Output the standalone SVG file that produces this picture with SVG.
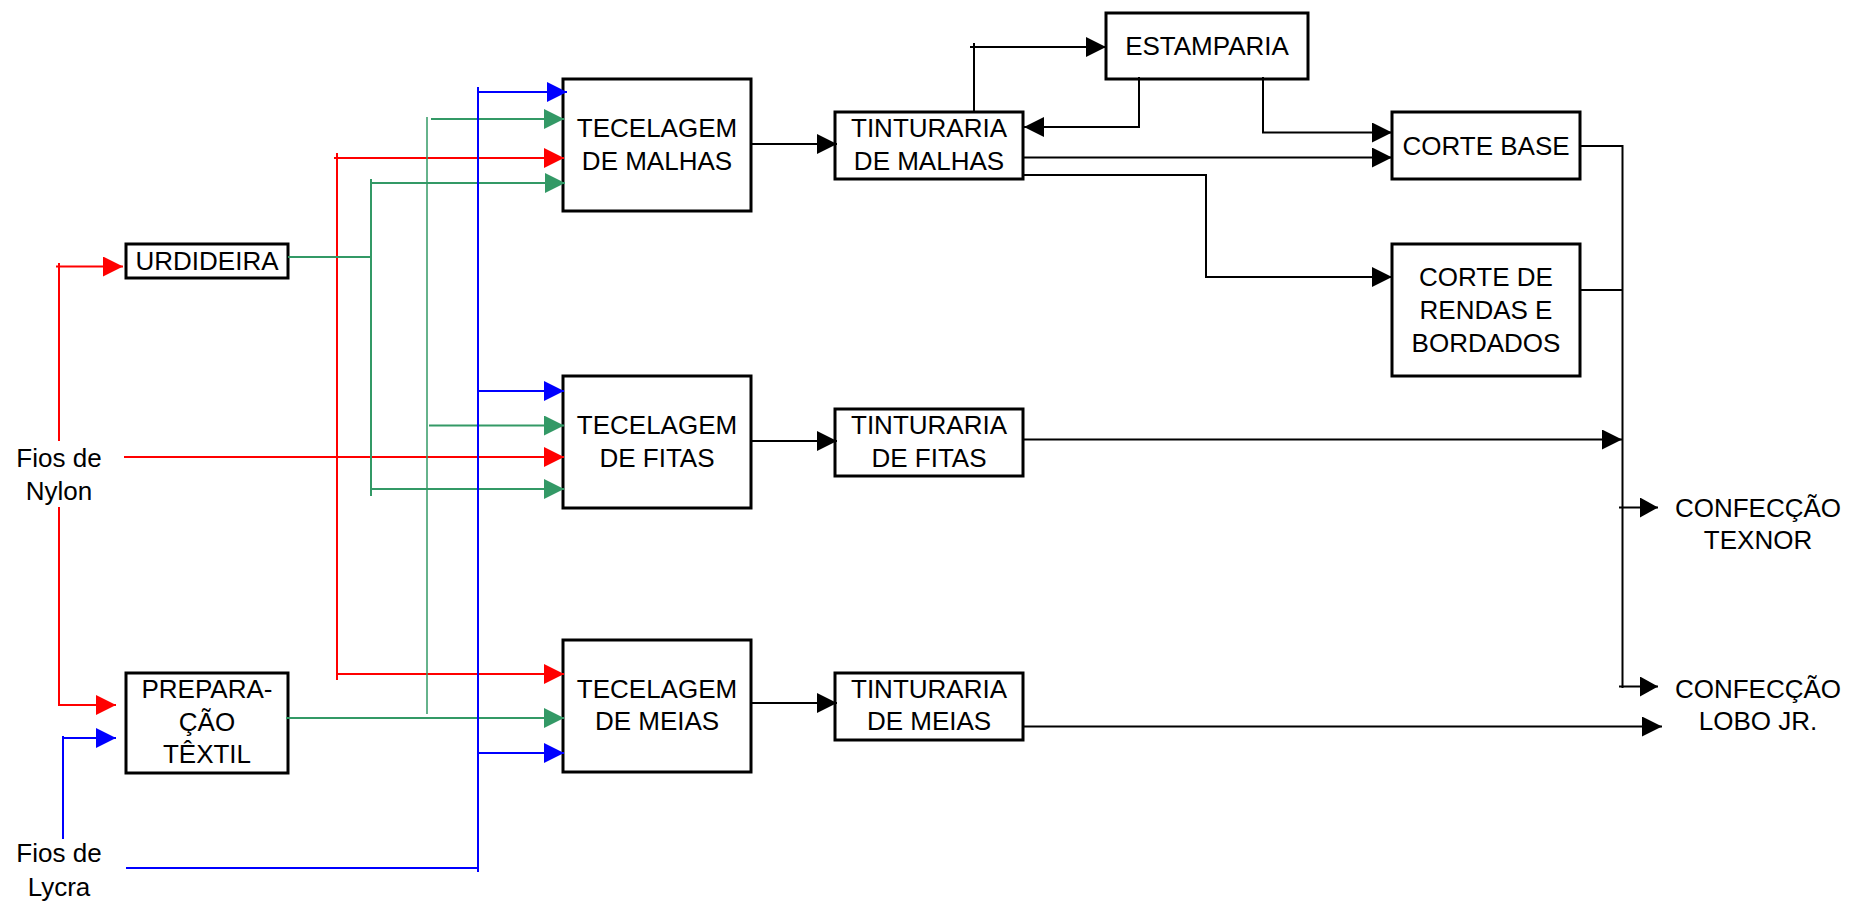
<svg xmlns="http://www.w3.org/2000/svg" width="1849" height="904" viewBox="0 0 1849 904">
<style>
.box{fill:#fff;stroke:#000;stroke-width:3}
text{font-family:"Liberation Sans",Arial,sans-serif;font-size:26px;fill:#000;text-anchor:middle}
.k{fill:none;stroke:#000;stroke-width:2}
.r{fill:none;stroke:#FF0000;stroke-width:2}
.g{fill:none;stroke:#339966;stroke-width:2}
.gl{fill:none;stroke:#339966;stroke-width:2;stroke-opacity:0.75}
.b{fill:none;stroke:#0000FF;stroke-width:2}
</style>
<defs>
<marker id="ak" viewBox="0 0 20 20" refX="20" refY="10" markerWidth="20" markerHeight="20" markerUnits="userSpaceOnUse" orient="auto"><path d="M0,0 L20,10 L0,20 z" fill="#000"/></marker>
<marker id="aks" viewBox="0 0 18 20" refX="18" refY="10" markerWidth="18" markerHeight="20" markerUnits="userSpaceOnUse" orient="auto"><path d="M0,0 L18,10 L0,20 z" fill="#000"/></marker>
<marker id="ar" viewBox="0 0 20 20" refX="20" refY="10" markerWidth="20" markerHeight="20" markerUnits="userSpaceOnUse" orient="auto"><path d="M0,0 L20,10 L0,20 z" fill="#FF0000"/></marker>
<marker id="ag" viewBox="0 0 20 20" refX="20" refY="10" markerWidth="20" markerHeight="20" markerUnits="userSpaceOnUse" orient="auto"><path d="M0,0 L20,10 L0,20 z" fill="#339966"/></marker>
<marker id="ab" viewBox="0 0 20 20" refX="20" refY="10" markerWidth="20" markerHeight="20" markerUnits="userSpaceOnUse" orient="auto"><path d="M0,0 L20,10 L0,20 z" fill="#0000FF"/></marker>
</defs>
<rect width="1849" height="904" fill="#fff"/>

<g id="urdideira"><rect class="box" x="126" y="244" width="162" height="34"/><text x="207" y="270">URDIDEIRA</text></g>
<g id="preparacao"><rect class="box" x="126" y="673" width="162" height="100"/><text x="207" y="698">PREPARA-</text><text x="207" y="731">ÇÃO</text><text x="207" y="763">TÊXTIL</text></g>
<g id="fios-nylon"><text x="59" y="467">Fios de</text><text x="59" y="500">Nylon</text></g>
<g id="fios-lycra"><text x="59" y="862">Fios de</text><text x="59" y="896">Lycra</text></g>
<g id="tec-malhas"><rect class="box" x="563" y="79" width="188" height="132"/><text x="657" y="137">TECELAGEM</text><text x="657" y="169.5">DE MALHAS</text></g>
<g id="tec-fitas"><rect class="box" x="563" y="376" width="188" height="132"/><text x="657" y="434">TECELAGEM</text><text x="657" y="466.5">DE FITAS</text></g>
<g id="tec-meias"><rect class="box" x="563" y="640" width="188" height="132"/><text x="657" y="697.5">TECELAGEM</text><text x="657" y="730">DE MEIAS</text></g>
<g id="tint-malhas"><rect class="box" x="835" y="112" width="188" height="67"/><text x="929" y="137">TINTURARIA</text><text x="929" y="169.5">DE MALHAS</text></g>
<g id="tint-fitas"><rect class="box" x="835" y="409" width="188" height="67"/><text x="929" y="434">TINTURARIA</text><text x="929" y="466.5">DE FITAS</text></g>
<g id="tint-meias"><rect class="box" x="835" y="673" width="188" height="67"/><text x="929" y="697.5">TINTURARIA</text><text x="929" y="730">DE MEIAS</text></g>
<g id="estamparia"><rect class="box" x="1106" y="13" width="202" height="66"/><text x="1207" y="54.5">ESTAMPARIA</text></g>
<g id="corte-base"><rect class="box" x="1392" y="112" width="188" height="67"/><text x="1486" y="154.5">CORTE BASE</text></g>
<g id="corte-rendas"><rect class="box" x="1392" y="244" width="188" height="132"/><text x="1486" y="286">CORTE DE</text><text x="1486" y="319">RENDAS E</text><text x="1486" y="352">BORDADOS</text></g>
<g id="confeccao-texnor"><text x="1758" y="517">CONFECÇÃO</text><text x="1758" y="548.5">TEXNOR</text></g>
<g id="confeccao-lobo"><text x="1758" y="697.5">CONFECÇÃO</text><text x="1758" y="730">LOBO JR.</text></g>

<g id="connectors">
<!-- red: nylon -->
<path class="r" d="M59,441 V263"/>
<path class="r" d="M56,266.5 H123" marker-end="url(#ar)"/>
<path class="r" d="M59,507 V705 H116" marker-end="url(#ar)"/>
<path class="r" d="M124,457 H564" marker-end="url(#ar)"/>
<path class="r" d="M337,153 V680"/>
<path class="r" d="M334,158 H564" marker-end="url(#ar)"/>
<path class="r" d="M337,674 H564" marker-end="url(#ar)"/>
<!-- green -->
<path class="g" d="M288,257 H371"/>
<path class="g" d="M371,179 V496"/>
<path class="g" d="M371,183 H565" marker-end="url(#ag)"/>
<path class="g" d="M371,489 H564" marker-end="url(#ag)"/>
<path class="gl" d="M427,117 V714"/>
<path class="g" d="M431,119 H564" marker-end="url(#ag)"/>
<path class="g" d="M429,425.5 H564" marker-end="url(#ag)"/>
<path class="g" d="M286,718 H564" marker-end="url(#ag)"/>
<!-- blue: lycra -->
<path class="b" d="M126,868 H478"/>
<path class="b" d="M478,87 V872"/>
<path class="b" d="M478,92 H567" marker-end="url(#ab)"/>
<path class="b" d="M478,391 H564" marker-end="url(#ab)"/>
<path class="b" d="M478,753 H564" marker-end="url(#ab)"/>
<path class="b" d="M63,839 V736"/>
<path class="b" d="M63,738 H116" marker-end="url(#ab)"/>
<!-- black -->
<path class="k" d="M751,144 H837" marker-end="url(#ak)"/>
<path class="k" d="M751,441 H837" marker-end="url(#ak)"/>
<path class="k" d="M751,703 H837" marker-end="url(#ak)"/>
<path class="k" d="M974,112 V43"/>
<path class="k" d="M970,47 H1106" marker-end="url(#ak)"/>
<path class="k" d="M1139,77 V127 H1024" marker-end="url(#ak)"/>
<path class="k" d="M1263,77 V132.5 H1392" marker-end="url(#ak)"/>
<path class="k" d="M1023,157.5 H1392" marker-end="url(#ak)"/>
<path class="k" d="M1023,175 H1206 V277 H1392" marker-end="url(#ak)"/>
<path class="k" d="M1580,146 H1622.5 V688"/>
<path class="k" d="M1580,290 H1622"/>
<path class="k" d="M1023,439.5 H1622" marker-end="url(#ak)"/>
<path class="k" d="M1619,507.5 H1658" marker-end="url(#aks)"/>
<path class="k" d="M1619,686.5 H1658" marker-end="url(#aks)"/>
<path class="k" d="M1023,726.5 H1662" marker-end="url(#ak)"/>
</g>
</svg>
